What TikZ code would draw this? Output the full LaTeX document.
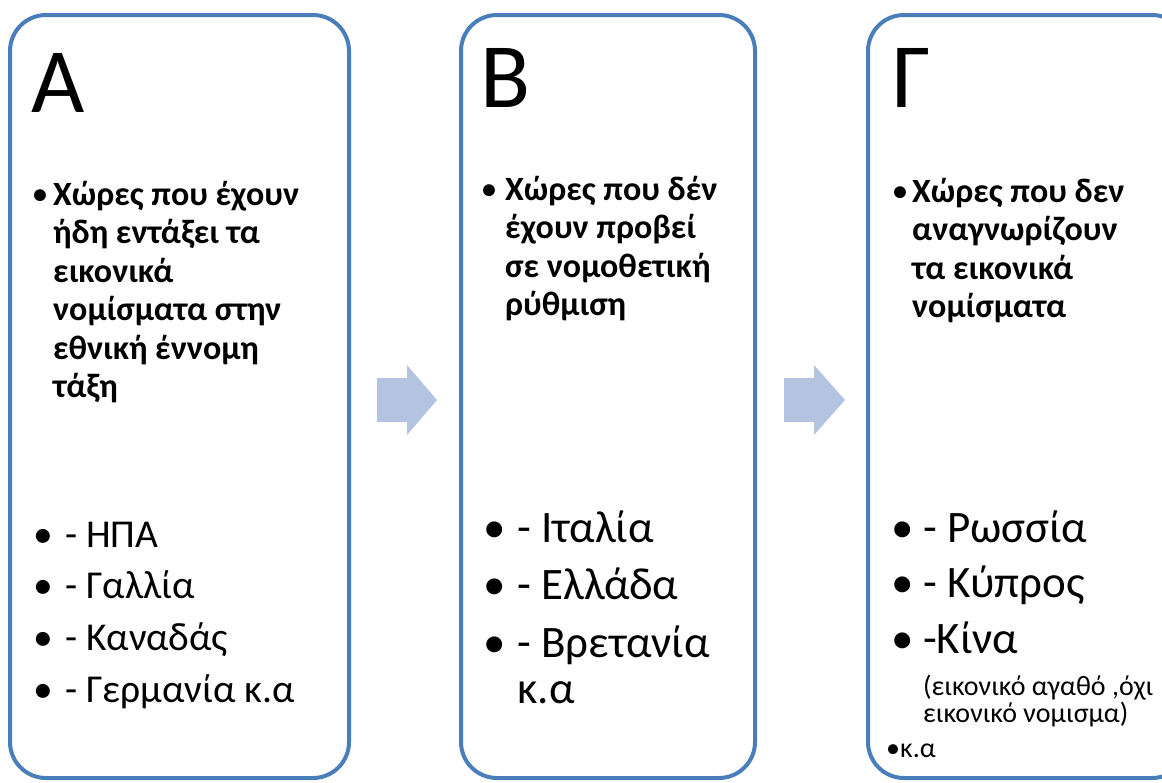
\documentclass[tikz,border=0pt]{standalone}
\usepackage{fontspec}
\setmainfont{Carlito}
\definecolor{panelblue}{HTML}{4A7EBB}
\definecolor{arrowblue}{HTML}{B4C4E0}
\tikzset{
  panel/.style = {draw=panelblue, line width=4pt, rounded corners=36pt, inner sep=0pt},
  flow/.style = {fill=arrowblue, draw=none},
  txt/.style = {anchor=base west, inner sep=0pt},
  hdr/.style = {txt, font=\fontsize{92pt}{110pt}\selectfont},
  lead/.style = {txt, align=left, font=\bfseries\fontsize{34pt}{38.5pt}\selectfont},
  leaddot/.style = {txt, font=\bfseries\fontsize{28pt}{30pt}\selectfont},
  item/.style = {txt, font=\fontsize{39.5pt}{46pt}\selectfont},
  bigitem/.style = {txt, font=\fontsize{45pt}{46pt}\selectfont},
  note/.style = {txt, font=\fontsize{28pt}{27pt}\selectfont}
}

\begin{document}
\begin{tikzpicture}[x=1pt,y=-1pt]
	\useasboundingbox (0,0) rectangle (1162,782);
	% panels
	\node [panel, minimum width=339pt, minimum height=763pt] (boxA) at (179.5,396.5) {};
	\node [panel, minimum width=294pt, minimum height=763pt] (boxB) at (608,396.5) {};
	\node [panel, minimum width=320pt, minimum height=763pt] (boxC) at (1028,396.5) {};
	% block arrows
	\fill [flow] (377,378) -- (407,378) -- (407,365) -- (437,400) -- (407,435) -- (407,422) -- (377,422) -- cycle;
	\fill [flow] (784,378) -- (814,378) -- (814,365) -- (845,400) -- (814,435) -- (814,422) -- (784,422) -- cycle;
	% headers
	\node [hdr] (hA) at (31,112) {Α};
	\node [hdr] (hB) at (480,107) {Β};
	\node [hdr] (hC) at (892,107) {Γ};
	% lead paragraphs (base = last line)
	\node [leaddot] (dotA) at (33,203) {•};
	\node [lead] (leadA) at (53,205+5*38.5) {Χώρες που έχουν\\ήδη εντάξει τα\\εικονικά\\νομίσματα στην\\εθνική έννομη\\τάξη};
	\node [leaddot] (dotB) at (482,198) {•};
	\node [lead] (leadB) at (505,200+3*38.5) {Χώρες που δέν\\έχουν προβεί\\σε νομοθετική\\ρύθμιση};
	\node [leaddot] (dotC) at (893,200) {•};
	\node [lead] (leadC) at (912,202+3*38.5) {Χώρες που δεν\\αναγνωρίζουν\\τα εικονικά\\νομίσματα};
	% list A
	\foreach \t [count=\i] in {- ΗΠΑ, - Γαλλία, - Καναδάς, - Γερμανία κ.α}{
		\node [item] (bA\i) at (33,495.5+51.7*\i) {•};
		\node [item] (iA\i) at (65,495.5+51.7*\i) {\t};
	}
	% list B
	\node [bigitem] (bB1) at (483,542) {•};
	\node [bigitem] (iB1) at (517,542) {- Ιταλία};
	\node [bigitem] (bB2) at (483,599) {•};
	\node [bigitem] (iB2) at (517,599) {- Ελλάδα};
	\node [bigitem] (bB3) at (483,657) {•};
	\node [bigitem] (iB3) at (517,657) {- Βρετανία};
	\node [bigitem] (iB4) at (517,703) {κ.α};
	% list C
	\node [bigitem] (bC1) at (891,542) {•};
	\node [bigitem] (iC1) at (923,542) {- Ρωσσία};
	\node [bigitem] (bC2) at (891,597) {•};
	\node [bigitem] (iC2) at (923,597) {- Κύπρος};
	\node [bigitem] (bC3) at (891,653) {•};
	\node [bigitem] (iC3) at (923,653) {-Κίνα};
	\node [note] (nC1) at (923,695) {(εικονικό αγαθό ,όχι};
	\node [note] (nC2) at (923,722) {εικονικό νομισμα)};
	\node [note] (nC3) at (886,757) {•κ.α};
\end{tikzpicture}
\end{document}
